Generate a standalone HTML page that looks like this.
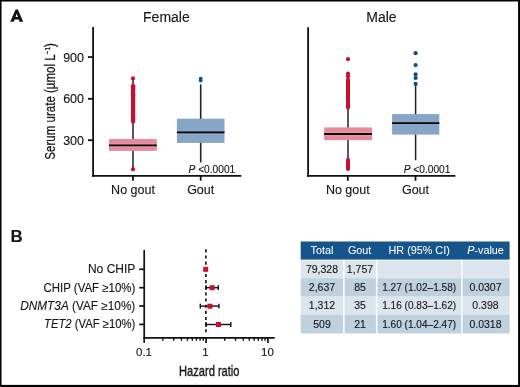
<!DOCTYPE html>
<html><head><meta charset="utf-8">
<style>
html,body{margin:0;padding:0;background:#fff;}
body{width:520px;height:387px;overflow:hidden;}
svg{display:block;will-change:transform;}
text{font-family:"Liberation Sans",sans-serif;fill:#151515;stroke:#151515;stroke-width:0.12;}
</style></head><body>
<svg width="520" height="387" viewBox="0 0 520 387">
<rect x="0" y="0" width="520" height="387" fill="#fff"/>

<!-- ===== Panel A ===== -->
<path d="M10.2 21.8 L15.6 9.6 L17.8 9.6 L23.2 21.8 L19.6 21.8 L18.8 19.5 L14.6 19.5 L13.8 21.8 Z M15.5 17.0 L17.9 17.0 L16.7 13.4 Z" fill="#111" fill-rule="evenodd"/>
<text x="166.4" y="21.6" font-size="14" text-anchor="middle">Female</text>
<text x="381.5" y="22.1" font-size="14" text-anchor="middle">Male</text>

<!-- y label -->
<g transform="translate(54.8,159.7) rotate(-90)">
  <text x="0" y="0" font-size="14.6" style="stroke-width:0.25" textLength="116.5" lengthAdjust="spacingAndGlyphs">Serum urate (µmol L<tspan font-size="8" dy="-4.5">−1</tspan><tspan dy="4.5">)</tspan></text>
</g>

<!-- Female axes -->
<g stroke="#111" stroke-width="1.8" fill="none">
  <line x1="93.1" y1="27" x2="93.1" y2="176.8"/>
  <line x1="92.2" y1="175.9" x2="241.3" y2="175.9"/>
  <line x1="88" y1="57.1" x2="93" y2="57.1"/>
  <line x1="88" y1="98.8" x2="93" y2="98.8"/>
  <line x1="88" y1="140.2" x2="93" y2="140.2"/>
  <line x1="133" y1="175.9" x2="133" y2="180.7"/>
  <line x1="200.7" y1="175.9" x2="200.7" y2="180.7"/>
</g>
<g font-size="12.5" text-anchor="end">
  <text x="84" y="61.6">900</text>
  <text x="84" y="103.2">600</text>
  <text x="84" y="145.1">300</text>
</g>
<g font-size="12.5" text-anchor="middle">
  <text x="133" y="193.9">No gout</text>
  <text x="200.7" y="193.9">Gout</text>
</g>

<!-- Female no gout -->
<line x1="133" y1="79" x2="133" y2="169.3" stroke="#222" stroke-width="1.5"/>
<rect x="109" y="139" width="47.8" height="11.9" fill="#e58b9c"/>
<rect x="109" y="143.3" width="47.8" height="4.2" fill="#ee97a8"/>
<line x1="109" y1="145.4" x2="156.8" y2="145.4" stroke="#000" stroke-width="1.8"/>
<g fill="#c8102e">
  <rect x="131" y="84.8" width="4.2" height="39" rx="2"/>
  <circle cx="133.1" cy="86.3" r="2.3"/>
  <circle cx="133.1" cy="95.2" r="2.2"/>
  <circle cx="133" cy="78.4" r="2.1"/>
  <circle cx="133" cy="169.3" r="2.1"/>
</g>
<!-- Female gout -->
<line x1="200.7" y1="84.4" x2="200.7" y2="162.5" stroke="#222" stroke-width="1.6"/>
<rect x="176.9" y="118.7" width="47.6" height="24.2" fill="#87a5c4"/>
<line x1="176.9" y1="132.3" x2="224.5" y2="132.3" stroke="#000" stroke-width="1.8"/>
<g fill="#104c8c">
  <circle cx="200.7" cy="78.6" r="1.9"/>
  <circle cx="200.7" cy="80.6" r="1.9"/>
</g>
<text x="188.5" y="172.9" font-size="10.2"><tspan font-style="italic">P</tspan> &lt;0.0001</text>

<!-- Male axes -->
<g stroke="#111" stroke-width="1.8" fill="none">
  <line x1="308.1" y1="27.3" x2="308.1" y2="176.8"/>
  <line x1="307.2" y1="175.9" x2="455.4" y2="175.9"/>
  <line x1="347.8" y1="175.9" x2="347.8" y2="180.8"/>
  <line x1="415.5" y1="175.9" x2="415.5" y2="180.8"/>
</g>
<g font-size="12.5" text-anchor="middle">
  <text x="347.8" y="194.2">No gout</text>
  <text x="415.5" y="194.2">Gout</text>
</g>
<!-- Male no gout -->
<line x1="348" y1="76" x2="348" y2="168" stroke="#222" stroke-width="1.5"/>
<rect x="324.2" y="127.4" width="47.8" height="12.8" fill="#e58b9c"/>
<rect x="324.2" y="131.9" width="47.8" height="4.2" fill="#ee97a8"/>
<line x1="324.2" y1="134" x2="372" y2="134" stroke="#000" stroke-width="1.8"/>
<g fill="#c8102e">
  <circle cx="348" cy="59.2" r="2.1"/>
  <circle cx="348" cy="73.6" r="2.1"/>
  <circle cx="348" cy="76.2" r="2.1"/>
  <rect x="346" y="77.5" width="4" height="32.2" rx="2"/>
  <rect x="346" y="157.7" width="4" height="13.4" rx="2"/>
</g>
<!-- Male gout -->
<line x1="415.6" y1="84" x2="415.6" y2="160.3" stroke="#222" stroke-width="1.5"/>
<rect x="392.1" y="114.1" width="47.2" height="20.5" fill="#87a5c4"/>
<line x1="392.1" y1="123.1" x2="439.3" y2="123.1" stroke="#000" stroke-width="1.8"/>
<g fill="#104c8c">
  <circle cx="415.6" cy="53.2" r="2.1"/>
  <circle cx="415.6" cy="65.1" r="2.1"/>
  <circle cx="415.6" cy="74.4" r="2.1"/>
  <circle cx="415.6" cy="78" r="2.1"/>
  <circle cx="415.6" cy="83.9" r="2.1"/>
</g>
<text x="403.7" y="172.7" font-size="10.2"><tspan font-style="italic">P</tspan> &lt;0.0001</text>

<!-- ===== Panel B ===== -->
<text x="10.6" y="241.6" font-size="16.8" font-weight="bold" fill="#000">B</text>

<g font-size="12" text-anchor="end">
  <text x="135.3" y="273">No CHIP</text>
  <text x="135.3" y="291.6" transform="translate(135.3 0) scale(0.956 1) translate(-135.3 0)">CHIP (VAF ≥10%)</text>
  <text x="135.3" y="309.9" transform="translate(135.3 0) scale(0.984 1) translate(-135.3 0)"><tspan font-style="italic">DNMT3A</tspan> (VAF ≥10%)</text>
  <text x="135.3" y="328" transform="translate(135.3 0) scale(0.942 1) translate(-135.3 0)"><tspan font-style="italic">TET2</tspan> (VAF ≥10%)</text>
</g>

<g stroke="#111" stroke-width="1.7" fill="none">
  <line x1="144.2" y1="249.9" x2="144.2" y2="342.9"/>
  <line x1="143.4" y1="337.9" x2="274.7" y2="337.9"/>
  <line x1="139.2" y1="269.3" x2="144.2" y2="269.3"/>
  <line x1="139.2" y1="287.7" x2="144.2" y2="287.7"/>
  <line x1="139.2" y1="306.0" x2="144.2" y2="306.0"/>
  <line x1="139.2" y1="324.4" x2="144.2" y2="324.4"/>
  <line x1="206.05" y1="337.9" x2="206.05" y2="342.9"/>
  <line x1="267.90" y1="337.9" x2="267.90" y2="342.9"/>
</g>
<g stroke="#111" stroke-width="1.4" fill="none">
<line x1="162.82" y1="337.9" x2="162.82" y2="340.8"/>
<line x1="173.71" y1="337.9" x2="173.71" y2="340.8"/>
<line x1="181.44" y1="337.9" x2="181.44" y2="340.8"/>
<line x1="187.43" y1="337.9" x2="187.43" y2="340.8"/>
<line x1="192.33" y1="337.9" x2="192.33" y2="340.8"/>
<line x1="196.47" y1="337.9" x2="196.47" y2="340.8"/>
<line x1="200.06" y1="337.9" x2="200.06" y2="340.8"/>
<line x1="203.22" y1="337.9" x2="203.22" y2="340.8"/>
<line x1="224.67" y1="337.9" x2="224.67" y2="340.8"/>
<line x1="235.56" y1="337.9" x2="235.56" y2="340.8"/>
<line x1="243.29" y1="337.9" x2="243.29" y2="340.8"/>
<line x1="249.28" y1="337.9" x2="249.28" y2="340.8"/>
<line x1="254.18" y1="337.9" x2="254.18" y2="340.8"/>
<line x1="258.32" y1="337.9" x2="258.32" y2="340.8"/>
<line x1="261.91" y1="337.9" x2="261.91" y2="340.8"/>
<line x1="265.07" y1="337.9" x2="265.07" y2="340.8"/>
</g>
<line x1="205.9" y1="249.3" x2="205.9" y2="334" stroke="#111" stroke-width="1.6" stroke-dasharray="3.1,3.05"/>
<g stroke="#111" stroke-width="1.4" fill="none">
  <line x1="206.0" y1="287.7" x2="218.3" y2="287.7"/>
  <line x1="206.0" y1="285.3" x2="206.0" y2="290.1"/>
  <line x1="218.3" y1="285.3" x2="218.3" y2="290.1"/>
  <line x1="200.3" y1="306.1" x2="218.9" y2="306.1"/>
  <line x1="200.3" y1="303.7" x2="200.3" y2="308.5"/>
  <line x1="218.9" y1="303.7" x2="218.9" y2="308.5"/>
  <line x1="206.1" y1="324.5" x2="230.8" y2="324.5"/>
  <line x1="206.1" y1="322.1" x2="206.1" y2="326.9"/>
  <line x1="230.8" y1="322.1" x2="230.8" y2="326.9"/>
</g>
<g fill="#c8102e">
  <rect x="203.2" y="266.8" width="5" height="5"/>
  <rect x="209.7" y="285.2" width="5" height="5"/>
  <rect x="207.4" y="303.7" width="5" height="5"/>
  <rect x="216.0" y="322.0" width="5" height="5"/>
</g>
<g font-size="11.5" text-anchor="middle">
  <text x="144" y="355.8">0.1</text>
  <text x="205.5" y="355.8">1</text>
  <text x="267.5" y="356.3">10</text>
</g>
<text x="179" y="376" font-size="14.2" style="stroke-width:0.35" textLength="60.5" lengthAdjust="spacingAndGlyphs">Hazard ratio</text>

<!-- Table -->
<rect x="300.7" y="241.5" width="208.9" height="18.3" fill="#16548c"/>
<rect x="300.7" y="259.8" width="208.9" height="18.4" fill="#dce5ee"/>
<rect x="300.7" y="278.2" width="208.9" height="18.4" fill="#bfd0df"/>
<rect x="300.7" y="296.6" width="208.9" height="18.4" fill="#dce5ee"/>
<rect x="300.7" y="315" width="208.9" height="18.5" fill="#bfd0df"/>
<g fill="#fff">
  <rect x="300.7" y="259.8" width="208.9" height="1" opacity="0.5"/>
  <rect x="343.1" y="259.8" width="1.5" height="73.7"/>
  <rect x="375.9" y="259.8" width="1.5" height="73.7"/>
  <rect x="461" y="259.8" width="1.5" height="73.7"/>
</g>
<g font-size="10.8" text-anchor="middle" style="fill:#fff;stroke:#fff">
  <text x="322" y="254" style="fill:#fff;stroke:#fff;stroke-width:0.05">Total</text>
  <text x="359.6" y="254" style="fill:#fff;stroke:#fff;stroke-width:0.05">Gout</text>
  <text x="419.15" y="254" style="fill:#fff;stroke:#fff;stroke-width:0.05">HR (95% CI)</text>
  <text x="485.5" y="254" style="fill:#fff;stroke:#fff;stroke-width:0.05"><tspan font-style="italic">P</tspan>-value</text>
</g>
<g font-size="10.5" text-anchor="middle">
  <text x="322" y="272.7">79,328</text>
  <text x="360" y="272.7">1,757</text>
  <text x="322" y="290.9">2,637</text>
  <text x="360" y="290.9">85</text>
  <text x="419.15" y="290.9" transform="translate(419.15 0) scale(0.96 1) translate(-419.15 0)">1.27 (1.02–1.58)</text>
  <text x="485.5" y="290.9">0.0307</text>
  <text x="322" y="309.3">1,312</text>
  <text x="360" y="309.3">35</text>
  <text x="419.15" y="309.3" transform="translate(419.15 0) scale(0.96 1) translate(-419.15 0)">1.16 (0.83–1.62)</text>
  <text x="485.5" y="309.3">0.398</text>
  <text x="322" y="327.7">509</text>
  <text x="360" y="327.7">21</text>
  <text x="419.15" y="327.7" transform="translate(419.15 0) scale(0.96 1) translate(-419.15 0)">1.60 (1.04–2.47)</text>
  <text x="485.5" y="327.7">0.0318</text>
</g>

<!-- border -->
<g fill="#000">
  <rect x="0" y="0" width="520" height="1.5"/>
  <rect x="0" y="0" width="1.5" height="387"/>
  <rect x="518.1" y="0" width="1.9" height="387"/>
  <rect x="0" y="384.9" width="520" height="2.1"/>
</g>
</svg>
</body></html>
